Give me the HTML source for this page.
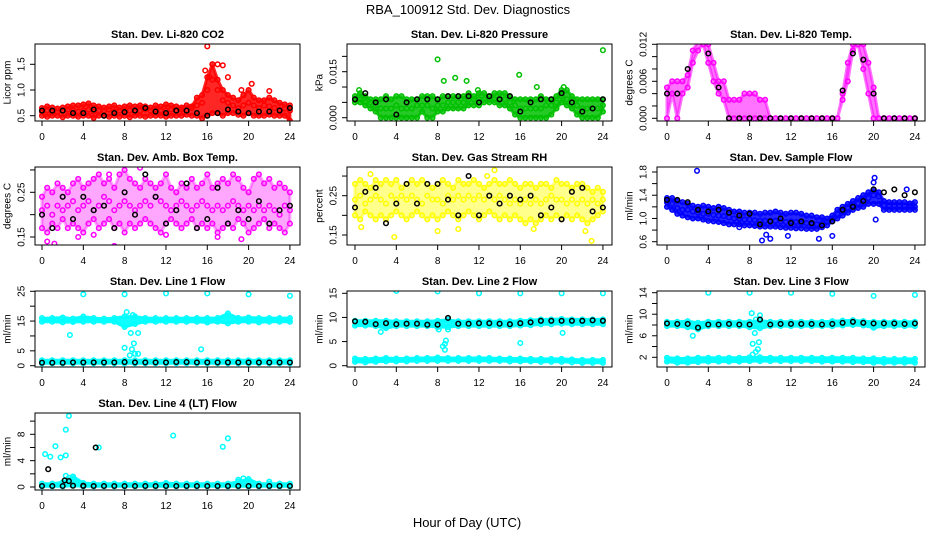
<!DOCTYPE html>
<html><head><meta charset="utf-8"><style>
html,body{margin:0;padding:0;background:#fff;}
svg{display:block;font-family:"Liberation Sans",Arial,sans-serif;}
.tl{font-size:10px;}
.pt{font-size:11px;font-weight:bold;}
</style></head><body>
<svg id="chart" width="936" height="540" viewBox="0 0 936 540" xmlns="http://www.w3.org/2000/svg">
<text x="468" y="14" text-anchor="middle" font-size="13">RBA_100912  Std. Dev. Diagnostics</text>
<text x="467" y="527" text-anchor="middle" font-size="13">Hour of Day (UTC)</text>
</svg>
<script>
const H49=[0,0.5,1,1.5,2,2.5,3,3.5,4,4.5,5,5.5,6,6.5,7,7.5,8,8.5,9,9.5,10,10.5,11,11.5,12,12.5,13,13.5,14,14.5,15,15.5,16,16.5,17,17.5,18,18.5,19,19.5,20,20.5,21,21.5,22,22.5,23,23.5,24];
const H25=[0,1,2,3,4,5,6,7,8,9,10,11,12,13,14,15,16,17,18,19,20,21,22,23,24];
const xTicks=[0,4,8,12,16,20,24];

// P1 CO2
const co2Hi=[0.65,0.68,0.66,0.64,0.66,0.68,0.7,0.7,0.72,0.74,0.7,0.68,0.66,0.68,0.7,0.66,0.68,0.7,0.68,0.7,0.68,0.66,0.7,0.68,0.72,0.7,0.68,0.66,0.7,0.68,0.85,0.9,1.25,1.5,1.2,1.0,0.9,0.85,0.8,0.9,1.0,0.85,0.8,0.8,0.85,0.8,0.75,0.72,0.7];
const co2Mid=[0.58,0.6,0.56,0.58,0.6,0.62,0.6,0.58,0.6,0.62,0.58,0.6,0.6,0.62,0.58,0.6,0.62,0.6,0.58,0.6,0.62,0.6,0.62,0.6,0.6,0.62,0.6,0.62,0.6,0.65,0.7,0.75,1.0,1.2,1.0,0.8,0.75,0.7,0.65,0.7,0.75,0.7,0.65,0.7,0.68,0.65,0.62,0.64,0.6];
const co2Lo=[0.5,0.48,0.5,0.5,0.47,0.5,0.5,0.48,0.5,0.5,0.46,0.5,0.5,0.48,0.5,0.48,0.5,0.47,0.5,0.5,0.48,0.5,0.5,0.5,0.48,0.5,0.5,0.5,0.52,0.5,0.5,0.45,0.5,0.55,0.55,0.5,0.55,0.55,0.52,0.5,0.55,0.5,0.5,0.5,0.52,0.5,0.5,0.5,0.4];
const co2OutX=[16,16.5,17,17.5,15.8,18,20.3,22,19.3,16.2];
const co2OutY=[1.85,1.5,1.5,1.48,1.38,1.25,1.12,0.98,1.0,1.25];
const co2Blk=[0.6,0.6,0.6,0.55,0.55,0.62,0.5,0.55,0.57,0.6,0.65,0.58,0.55,0.6,0.6,0.55,0.5,0.55,0.62,0.58,0.55,0.58,0.58,0.6,0.65];
// P2 pressure
const prHi=[0.007,0.008,0.007,0.006,0.006,0.006,0.007,0.006,0.007,0.007,0.006,0.006,0.006,0.007,0.007,0.007,0.006,0.007,0.007,0.007,0.007,0.007,0.008,0.007,0.008,0.008,0.007,0.008,0.008,0.008,0.007,0.006,0.006,0.006,0.006,0.006,0.007,0.006,0.006,0.007,0.009,0.009,0.007,0.006,0.006,0.006,0.006,0.006,0.006];
const prMid=[0.006,0.006,0.005,0.005,0.004,0.003,0.003,0.003,0.004,0.003,0.003,0.003,0.004,0.004,0.004,0.003,0.004,0.004,0.005,0.005,0.005,0.005,0.006,0.006,0.006,0.006,0.006,0.006,0.006,0.006,0.005,0.004,0.003,0.003,0.003,0.003,0.003,0.004,0.004,0.005,0.007,0.006,0.005,0.004,0.003,0.003,0.003,0.003,0.004];
const prLo=[0.005,0.005,0.004,0.003,0.002,0,0,0,0,0,0,0,0,0.002,0,0,0.002,0.002,0.003,0.003,0.003,0.003,0.004,0.004,0.004,0.005,0.005,0.005,0.004,0.004,0.003,0.001,0,0,0,0,0,0,0.001,0.003,0.005,0.004,0.003,0.001,0,0,0,0,0.002];
const prOutX=[8,8.6,9.7,10.8,15.9,17.6,20.2,24,0.4,11.9];
const prOutY=[0.019,0.012,0.013,0.012,0.014,0.010,0.010,0.022,0.009,0.009];
const prBlk=[0.006,0.008,0.005,0.006,0.001,0.005,0.006,0.006,0.006,0.007,0.007,0.007,0.005,0.007,0.006,0.007,0.002,0.005,0.006,0.006,0.008,0.005,0.002,0.003,0.006];
// P3 Li-820 temp
const tpHi=[0.005,0.006,0.006,0.006,0.007,0.011,0.0125,0.0125,0.012,0.009,0.006,0.006,0.003,0.003,0.003,0.004,0.004,0.004,0.003,0.003,0,0,0,0,0,0,0,0,0,0,0,0,0,0,0.004,0.009,0.012,0.0125,0.012,0.009,0.005,0,0,0,0,0,0,0,0];
const tpLo=[0,0.004,0,0.004,0.005,0.009,0.011,0.012,0.009,0.006,0.004,0.003,0,0,0,0,0,0,0,0,0,0,0,0,0,0,0,0,0,0,0,0,0,0,0.003,0.006,0.011,0.012,0.008,0.004,0,0,0,0,0,0,0,0,0];
const tpBlk=[0.004,0.004,0.008,0.0125,0.0105,0.005,0,0,0,0,0,0,0,0,0,0,0,0.0045,0.0105,0.0095,0.004,0,0,0,0];
// P4 amb box temp
const abHi=[0.24,0.26,0.25,0.27,0.26,0.25,0.27,0.28,0.26,0.27,0.28,0.29,0.27,0.28,0.26,0.29,0.30,0.28,0.27,0.26,0.28,0.27,0.26,0.27,0.29,0.26,0.25,0.27,0.26,0.28,0.26,0.27,0.29,0.26,0.27,0.28,0.27,0.29,0.28,0.26,0.25,0.28,0.29,0.27,0.28,0.26,0.27,0.26,0.25];
const abMid=[0.21,0.22,0.20,0.22,0.21,0.22,0.23,0.21,0.22,0.23,0.21,0.22,0.24,0.23,0.21,0.22,0.23,0.22,0.21,0.22,0.23,0.22,0.24,0.23,0.22,0.21,0.22,0.23,0.22,0.21,0.22,0.23,0.22,0.21,0.22,0.21,0.22,0.23,0.22,0.21,0.22,0.21,0.22,0.21,0.22,0.21,0.20,0.22,0.21];
const abLo=[0.17,0.16,0.18,0.17,0.19,0.17,0.18,0.17,0.16,0.18,0.19,0.17,0.18,0.19,0.17,0.18,0.16,0.18,0.17,0.18,0.19,0.18,0.17,0.16,0.18,0.19,0.18,0.17,0.18,0.19,0.17,0.18,0.17,0.18,0.16,0.17,0.18,0.17,0.19,0.18,0.16,0.17,0.18,0.19,0.17,0.18,0.17,0.16,0.18];
const abOutX=[0.5,1.2,3.5,7,9.5,12,17,19.3,6.5,5];
const abOutY=[0.14,0.135,0.15,0.13,0.305,0.155,0.15,0.145,0.29,0.155];
const abBlk=[0.20,0.17,0.24,0.19,0.24,0.21,0.22,0.17,0.25,0.2,0.29,0.24,0.18,0.21,0.27,0.17,0.19,0.26,0.18,0.21,0.19,0.23,0.18,0.21,0.22];
// P5 RH
const rhHi=[0.28,0.29,0.28,0.27,0.29,0.28,0.29,0.28,0.29,0.27,0.28,0.29,0.28,0.29,0.28,0.27,0.28,0.29,0.28,0.27,0.29,0.28,0.28,0.29,0.28,0.27,0.28,0.29,0.28,0.28,0.29,0.28,0.27,0.28,0.28,0.27,0.28,0.28,0.27,0.29,0.28,0.28,0.27,0.28,0.28,0.27,0.26,0.27,0.26];
const rhMid=[0.24,0.25,0.23,0.24,0.25,0.24,0.23,0.25,0.24,0.25,0.24,0.25,0.24,0.23,0.25,0.24,0.24,0.23,0.25,0.24,0.25,0.24,0.25,0.24,0.25,0.24,0.25,0.24,0.25,0.24,0.23,0.24,0.23,0.24,0.23,0.24,0.23,0.24,0.25,0.24,0.24,0.23,0.24,0.23,0.24,0.23,0.24,0.23,0.24];
const rhLo=[0.20,0.19,0.21,0.20,0.19,0.20,0.19,0.20,0.21,0.20,0.19,0.20,0.21,0.20,0.19,0.20,0.19,0.20,0.21,0.20,0.19,0.20,0.21,0.20,0.19,0.20,0.21,0.20,0.19,0.20,0.19,0.20,0.19,0.18,0.19,0.18,0.19,0.20,0.19,0.20,0.19,0.20,0.19,0.20,0.19,0.18,0.19,0.20,0.21];
const rhOutX=[0.6,3.8,8,10,13.5,17.3,22.3,22.9,1.5,12.8];
const rhOutY=[0.17,0.145,0.16,0.165,0.315,0.165,0.16,0.135,0.305,0.30];
const rhBlk=[0.22,0.26,0.27,0.18,0.23,0.28,0.23,0.28,0.28,0.24,0.2,0.3,0.2,0.25,0.23,0.25,0.24,0.25,0.2,0.22,0.19,0.26,0.27,0.21,0.22];
// P6 sample flow
const sfHi=[1.35,1.35,1.3,1.28,1.25,1.22,1.2,1.22,1.2,1.18,1.2,1.18,1.15,1.12,1.12,1.1,1.1,1.1,1.08,1.1,1.1,1.12,1.1,1.08,1.1,1.1,1.08,1.05,1.05,1.02,1.02,1.0,1.05,1.15,1.2,1.25,1.3,1.35,1.4,1.45,1.5,1.45,1.3,1.28,1.28,1.28,1.28,1.26,1.28];
const sfMid=[1.28,1.25,1.18,1.15,1.15,1.12,1.1,1.08,1.08,1.06,1.05,1.04,1.02,1.0,1.0,0.98,0.98,0.97,0.96,0.96,0.96,0.96,0.95,0.94,0.95,0.94,0.92,0.92,0.9,0.9,0.92,0.95,1.0,1.08,1.12,1.18,1.22,1.26,1.32,1.35,1.4,1.38,1.22,1.22,1.22,1.22,1.22,1.22,1.2];
const sfLo=[1.2,1.15,1.08,1.05,1.02,1.0,1.0,0.98,0.96,0.95,0.94,0.92,0.9,0.9,0.9,0.88,0.88,0.87,0.86,0.86,0.86,0.86,0.85,0.84,0.84,0.83,0.83,0.82,0.82,0.82,0.85,0.88,0.95,1.0,1.05,1.1,1.15,1.18,1.2,1.25,1.25,1.25,1.15,1.15,1.15,1.15,1.15,1.15,1.15];
const sfOutX=[2.9,7,9.6,10,9.2,11.7,14.7,16,20.2,20,20.1,23.2];
const sfOutY=[1.82,0.85,0.72,0.65,0.62,0.7,0.65,0.7,0.98,1.62,1.7,1.5];
const sfBlk=[1.32,1.32,1.28,1.15,1.12,1.15,1.1,1.05,1.08,0.9,0.95,1.0,0.92,0.95,0.92,0.88,0.95,1.15,1.2,1.3,1.5,1.45,1.5,1.4,1.45];
// P7 line 1
const l1UpHi=[16,16,16.2,15.8,16.5,16,15.8,16,16.5,16.5,16,16,16,16,16,16,16,16,17.5,16,16.2,16,16,16,16];
const l1UpLo=[14.8,14.8,14.6,14.7,14.8,14.8,14.8,14.8,13,14,14.8,14.8,14.8,14.8,14.8,14.8,14.5,14.8,14.2,14.8,14.8,14.6,14.8,14.8,14.8];
const l1LowHi=[1.8,1.8,1.8,1.8,1.8,1.8,1.8,1.8,1.8,1.8,1.8,1.8,1.8,1.8,1.8,1.8,1.8,1.8,1.8,1.8,1.8,1.8,1.8,1.8,1.8];
const l1LowLo=[0.8,0.8,0.8,0.8,0.8,0.8,0.8,0.8,0.8,0.8,0.8,0.8,0.8,0.8,0.8,0.8,0.8,0.8,0.8,0.8,0.8,0.8,0.8,0.8,0.8];
const l1OutX=[4,8,12,16,20,24,2.7,8.2,8,8.5,8.7,8.9,9,9.3,8.6,9.3,8.8,15.4,18];
const l1OutY=[24,24,24.3,24.3,24,23.5,10.3,18,6,3.5,5.5,7.5,4,4,11,11,17,5.5,17.5];
const l1Blk=[1,1,1,1.1,1.1,1.1,1.1,1.1,1.2,1.1,1.1,1.1,1.1,1.2,1.2,1.1,1.1,1.1,1.1,1.1,1.1,1.1,1.1,1.1,1.1];
// P8 line 2
const l2UpHi=[9.3,9.3,9.3,9.3,9.2,9.2,9.2,9.2,9.3,9.5,9.2,9.2,9.2,9.2,9.2,9.2,9.3,9.4,9.6,9.6,9.7,9.6,9.6,9.6,9.6];
const l2UpLo=[8.3,8.3,8.2,7.8,8.2,8.2,8.2,8.2,8.0,8.0,8.2,8.2,8.2,8.2,8.2,8.2,8.3,8.4,8.6,8.6,8.7,8.6,8.6,8.6,8.6];
const l2LowHi=[1.5,1.4,1.5,1.6,1.5,1.5,1.6,1.6,1.7,1.6,1.6,1.6,1.6,1.6,1.5,1.5,1.5,1.4,1.4,1.4,1.4,1.3,1.2,1.2,1.2];
const l2LowLo=[0.8,0.7,0.8,0.9,0.9,0.9,1.0,1.0,1.0,1.0,1.0,1.0,1.0,1.0,1.0,0.9,0.9,0.9,0.8,0.8,0.8,0.7,0.6,0.6,0.6];
const l2OutX=[4,8,12,16,20,24,2.5,8.5,8.7,8.7,8.8,16,20.1,9,8.1];
const l2OutY=[15.5,15.4,15,15,15,15,7,4,4.5,3.3,5.2,4.7,6.8,7.5,7.5];
const l2Blk=[9.2,9.1,8.6,8.8,8.6,8.7,8.7,8.5,8.5,9.9,8.7,8.7,8.8,8.8,8.7,8.6,8.8,9.0,9.3,9.3,9.3,9.3,9.3,9.4,9.3];
// P9 line 3
const l3UpHi=[8.6,8.6,8.7,8.4,8.6,8.6,8.6,8.6,8.6,8.8,8.6,8.6,8.6,8.6,8.6,8.6,8.7,8.8,8.9,8.7,8.6,8.6,8.6,8.6,8.6];
const l3UpLo=[7.8,7.8,7.6,7.2,7.8,7.8,7.8,7.8,7.6,7.4,7.8,7.8,7.8,7.8,7.8,7.8,7.8,7.9,8.0,7.9,7.5,7.8,7.8,7.8,7.8];
const l3LowHi=[1.9,1.8,1.8,1.9,1.9,1.9,1.9,1.9,2.0,2.0,1.9,1.9,1.9,1.9,1.9,1.9,1.9,1.9,1.9,1.8,1.8,1.7,1.7,1.7,1.7];
const l3LowLo=[1.2,1.0,1.0,1.1,1.2,1.2,1.2,1.2,1.3,1.3,1.3,1.3,1.3,1.3,1.3,1.2,1.2,1.2,1.1,1.1,1.0,1.0,1.0,1.0,1.0];
const l3OutX=[4,8,12,16,20,24,2.5,8.2,8.5,8.3,8.6,8.9,8.3,9,8.6,8.8];
const l3OutY=[14,14,14,13.8,13.4,13.6,6,10.2,6.5,4.5,3,4.8,2.5,9.8,9,3.5];
const l3Blk=[8.3,8.2,8.2,7.5,8.1,8.1,8.2,8.1,8.1,9.0,8.1,8.2,8.2,8.2,8.2,8.1,8.2,8.4,8.6,8.4,8.3,8.3,8.3,8.2,8.3];
// P10 line 4
const l4Hi=[0.5,0.5,0.7,1.6,0.6,0.5,0.5,0.5,0.5,0.5,0.5,0.5,0.6,0.5,0.5,0.5,0.5,0.5,0.5,0.8,1.2,0.5,0.5,0.5,0.5];
const l4Lo=[0.1,0.1,0.1,0.2,0.1,0.1,0.1,0.1,0.1,0.1,0.1,0.1,0.1,0.1,0.1,0.1,0.1,0.1,0.1,0.1,0.1,0.1,0.1,0.1,0.1];
const l4OutX=[0.3,0.8,1.3,1.8,2.3,2.3,2.6,5.5,12.7,17.5,18,2.3,2.6,19,19.5,22,12];
const l4OutY=[5,4.6,6.2,4.5,8.7,4.8,10.8,6,7.8,6.1,7.4,1.7,1.4,1.1,1.3,0.8,0.4];
const l4Blk=[0.15,0.15,0.15,0.2,0.15,0.15,0.15,0.15,0.15,0.15,0.15,0.15,0.15,0.15,0.15,0.15,0.15,0.15,0.15,0.15,0.15,0.15,0.15,0.15,0.15];
const l4BlkOutX=[0.6,2.2,2.6,5.2,4];
const l4BlkOutY=[2.7,1.0,0.9,6,0.2];

const NS="http://www.w3.org/2000/svg";
const svg=document.getElementById('chart');
const cols=[{l:35,r:300,x0:42},{l:347,r:612,x0:355},{l:657,r:925,x0:667}];
const rows=[{t:44,b:121},{t:167,b:245},{t:291,b:367},{t:413,b:490}];
const PPH=10.33;
function mk(tag,attrs,parent){const e=document.createElementNS(NS,tag);for(const k in attrs)e.setAttribute(k,attrs[k]);(parent||svg).appendChild(e);return e;}

const panels=[
 {name:'co2',title:'Stan. Dev. Li-820 CO2',yt:'Licor ppm',c:0,r:0,v0:0.5,p0:115.7,v1:1.5,p1:64.3,ticks:[0.5,1.0,1.5],labels:['0.5','1.0','1.5'],color:'#ff0000',bandOp:0.85,
  bands:[[H49,co2Lo,co2Hi]],pts:[[H49,co2Hi],[H49,co2Mid],[H49,co2Lo],[co2OutX,co2OutY]],blk:[[H25,co2Blk]]},
 {name:'pressure',title:'Stan. Dev. Li-820 Pressure',yt:'kPa',c:1,r:0,v0:0,p0:117.7,v1:0.015,p1:71.7,ticks:[0,0.005,0.01,0.015,0.02],labels:['0.000','','','0.015',''],color:'#00c000',bandOp:0.85,
  bands:[[H49,prLo,prHi]],pts:[[H49,prHi],[H49,prMid],[H49,prLo],[prOutX,prOutY]],blk:[[H25,prBlk]]},
 {name:'li820-temp',title:'Stan. Dev. Li-820 Temp.',yt:'degrees C',c:2,r:0,v0:0,p0:118.3,v1:0.012,p1:44.3,ticks:[0,0.002,0.004,0.006,0.008,0.01,0.012],labels:['0.000','','','0.006','','','0.012'],color:'#ff00ff',bandOp:0.55,
  bands:[[H49,tpLo,tpHi]],pts:[[H49,tpHi],[H49,tpLo]],blk:[[H25,tpBlk]]},
 {name:'amb-box-temp',title:'Stan. Dev. Amb. Box Temp.',yt:'degrees C',c:0,r:1,v0:0.15,p0:237,v1:0.25,p1:192.3,ticks:[0.15,0.2,0.25,0.3],labels:['0.15','','0.25',''],color:'#ff00ff',bandOp:0.35,
  bands:[[H49,abLo,abHi]],pts:[[H49,abHi],[H49,abMid],[H49,abLo],[abOutX,abOutY]],blk:[[H25,abBlk]]},
 {name:'gas-stream-rh',title:'Stan. Dev. Gas Stream RH',yt:'percent',c:1,r:1,v0:0.15,p0:235,v1:0.25,p1:195.7,ticks:[0.15,0.2,0.25,0.3],labels:['0.15','','0.25',''],color:'#ffff00',bandOp:0.45,
  bands:[[H49,rhLo,rhHi]],pts:[[H49,rhHi],[H49,rhMid],[H49,rhLo],[rhOutX,rhOutY]],blk:[[H25,rhBlk]]},
 {name:'sample-flow',title:'Stan. Dev. Sample Flow',yt:'ml/min',c:2,r:1,v0:0.6,p0:241.7,v1:1.8,p1:172,ticks:[0.6,0.8,1.0,1.2,1.4,1.6,1.8],labels:['0.6','','1.0','','1.4','','1.8'],color:'#0000ff',bandOp:0.85,
  bands:[[H49,sfLo,sfHi]],pts:[[H49,sfHi],[H49,sfMid],[H49,sfLo],[sfOutX,sfOutY]],blk:[[H25,sfBlk]]},
 {name:'line1-flow',title:'Stan. Dev. Line 1 Flow',yt:'ml/min',c:0,r:2,v0:0,p0:365.7,v1:25,p1:291.3,ticks:[0,5,10,15,20,25],labels:['0','5','','15','','25'],color:'#00ffff',bandOp:0.95,
  bands:[[H25,l1UpLo,l1UpHi],[H25,l1LowLo,l1LowHi]],pts:[[H25,l1UpHi],[H25,l1UpLo],[H25,l1LowHi],[H25,l1LowLo],[l1OutX,l1OutY]],blk:[[H25,l1Blk]]},
 {name:'line2-flow',title:'Stan. Dev. Line 2 Flow',yt:'ml/min',c:1,r:2,v0:0,p0:365.7,v1:15,p1:293.3,ticks:[0,5,10,15],labels:['0','5','10','15'],color:'#00ffff',bandOp:0.95,
  bands:[[H25,l2UpLo,l2UpHi],[H25,l2LowLo,l2LowHi]],pts:[[H25,l2UpHi],[H25,l2UpLo],[H25,l2LowHi],[H25,l2LowLo],[l2OutX,l2OutY]],blk:[[H25,l2Blk]]},
 {name:'line3-flow',title:'Stan. Dev. Line 3 Flow',yt:'ml/min',c:2,r:2,v0:2,p0:357.3,v1:14,p1:292.7,ticks:[2,4,6,8,10,12,14],labels:['2','','6','','10','','14'],color:'#00ffff',bandOp:0.95,
  bands:[[H25,l3UpLo,l3UpHi],[H25,l3LowLo,l3LowHi]],pts:[[H25,l3UpHi],[H25,l3UpLo],[H25,l3LowHi],[H25,l3LowLo],[l3OutX,l3OutY]],blk:[[H25,l3Blk]]},
 {name:'line4-flow',title:'Stan. Dev. Line 4 (LT) Flow',yt:'ml/min',c:0,r:3,v0:0,p0:487,v1:8,p1:434.3,ticks:[0,2,4,6,8,10],labels:['0','','4','','8',''],color:'#00ffff',bandOp:0.95,
  bands:[[H25,l4Lo,l4Hi]],pts:[[H25,l4Hi],[H25,l4Lo],[l4OutX,l4OutY]],blk:[[H25,l4Blk],[l4BlkOutX,l4BlkOutY]]}
];

panels.forEach(p=>{
  const C=cols[p.c],R=rows[p.r];
  const xs=h=>C.x0+h*PPH;
  const ys=v=>p.p0+(v-p.v0)*(p.p1-p.p0)/(p.v1-p.v0);
  const g=mk('g',{});
  
  
  const clipId='clip-'+p.name;
  const cp=mk('clipPath',{id:clipId},g);
  mk('rect',{x:C.l,y:R.t,width:C.r-C.l,height:R.b-R.t},cp);
  const t=mk('text',{x:(C.l+C.r)/2,y:R.t-6,'text-anchor':'middle',class:'pt'},g);
  
  
  t.textContent=p.title;
  const yt=mk('text',{x:C.l-27,y:(R.t+R.b)/2,'text-anchor':'middle','dominant-baseline':'middle',class:'tl',transform:`rotate(-90,${C.l-27},${(R.t+R.b)/2})`},g);
  
  
  yt.textContent=p.yt;
  const data=mk('g',{'clip-path':`url(#${clipId})`},g);
  
  
  p.bands.forEach(b=>{
    const [bx,lo,hi]=b;
    let d='';
    bx.forEach((h,i)=>{d+=(i?'L':'M')+xs(h).toFixed(1)+','+ys(hi[i]).toFixed(1);});
    for(let i=bx.length-1;i>=0;i--)d+='L'+xs(bx[i]).toFixed(1)+','+ys(lo[i]).toFixed(1);
    const pa=mk('path',{d:d+'Z',fill:p.color,'fill-opacity':p.bandOp,stroke:p.color,'stroke-width':3,'stroke-opacity':p.bandOp,'stroke-linejoin':'round'},data);
    
    
  });
  const drawPts=(arr,col)=>arr.forEach(s=>{
    const [sx,sy]=s;
    sx.forEach((h,i)=>{
      const c=mk('circle',{cx:xs(h).toFixed(1),cy:ys(sy[i]).toFixed(1),r:2.3,fill:'none',stroke:col,'stroke-width':1.5},data);
      
      
    });
  });
  drawPts(p.pts,p.color);
  drawPts(p.blk,'#000');
  const box=mk('rect',{x:C.l,y:R.t,width:C.r-C.l,height:R.b-R.t,fill:'none',stroke:'#000','stroke-width':1},g);
  
  
  xTicks.forEach(h=>{
    const x=xs(h);
    mk('line',{x1:x,x2:x,y1:R.b,y2:R.b+5,stroke:'#000'},g);
    const tx=mk('text',{x:x,y:R.b+19,'text-anchor':'middle',class:'tl'},g);
    
    
    tx.textContent=h;
  });
  p.ticks.forEach((v,i)=>{
    const y=ys(v);
    mk('line',{x1:C.l-5,x2:C.l,y1:y,y2:y,stroke:'#000'},g);
    if(p.labels[i]){
      const lx=C.l-13;
      const tx=mk('text',{x:lx,y:y,'text-anchor':'middle','dominant-baseline':'middle',class:'tl',transform:`rotate(-90,${lx},${y})`},g);
      
      
      tx.textContent=p.labels[i];
    }
  });
});
</script>
</body></html>
